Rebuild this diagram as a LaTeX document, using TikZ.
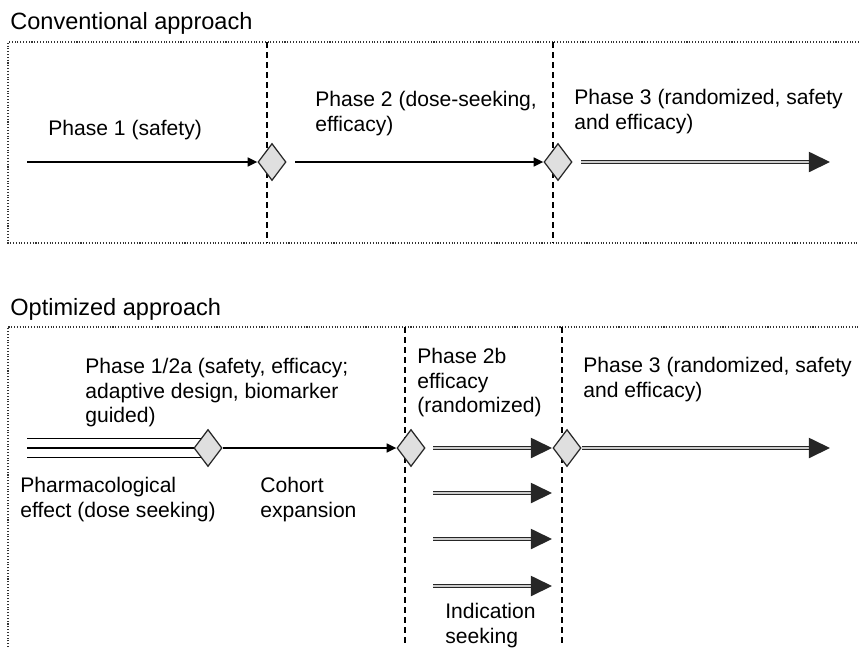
\documentclass[tikz,border=0pt]{standalone}
\usepackage{fontspec}
\setmainfont{Liberation Sans}
\usetikzlibrary{arrows.meta,shapes.geometric,backgrounds}

\tikzset{
  gate/.style={diamond, draw=black!85, fill=gray!25, line width=0.7pt, inner sep=0pt,
    minimum width=0.56cm, minimum height=0.74cm},
  phaseline/.style={dash pattern=on 3.4pt off 2.3pt, line width=0.8pt},
  frame/.style={densely dotted, line width=0.6pt, black!80},
  thinarrow/.style={line width=1.1pt, -{Triangle[length=5.5pt,width=5pt]}},
  bigarrow/.style={double=gray!40, draw=black!85, double distance=1.1pt, line width=0.75pt,
    -{Triangle[length=12pt,width=11.5pt]}},
  label/.style={anchor=north west, inner sep=0pt, align=left,
    font=\fontsize{12}{14}\selectfont},
  heading/.style={anchor=north west, inner sep=0pt, font=\fontsize{13.4}{16}\selectfont}
}

\begin{document}
\begin{tikzpicture}[x=0.02cm, y=-0.02cm]
        \useasboundingbox (0,0) rectangle (859,647);
        % \draw[help lines, gray!50, very thin] (0,0) grid[step=50] (859,647);

        % conventional approach
        \node[heading] (convtitle) at (10,12) {Conventional approach};
        \draw[frame] (859,42) -- (8,42) -- (8,243) -- (859,243);
        \draw[phaseline] (267,42) -- (267,243);
        \draw[phaseline] (553,42) -- (553,243);

        \node[gate] (c1) at (272,162) {};
        \node[gate] (c2) at (558,162) {};

        \coordinate (c0) at (27,162);
        \coordinate (c3) at (830,162);
        \draw[thinarrow] (c0) -- (c1.west);
        \draw[thinarrow] ([xshift=5pt]c1.east) -- (c2.west);
        \draw[bigarrow] ([xshift=5pt]c2.east) -- (c3);

        \node[label] (cphase1) at (48,120) {Phase 1 (safety)};
        \node[label] (cphase2) at (315,91) {Phase 2 (dose-seeking,\\efficacy)};
        \node[label] (cphase3) at (574,89) {Phase 3 (randomized, safety\\and efficacy)};

        % optimized approach
        \node[heading] (opttitle) at (10,298) {Optimized approach};
        \draw[frame] (8,647) -- (8,327) -- (859,327);
        \draw[phaseline] (405,327) -- (405,647);
        \draw[phaseline] (562,327) -- (562,647);

        \node[gate] (oA) at (208,448) {};
        \node[gate] (oB) at (411,448) {};
        \node[gate] (oC) at (567,448) {};

        \coordinate (o0) at (27,448);
        \begin{scope}[on background layer]
          \foreach \dy in {-9.5,0,9.5}
            \draw[line width=1.1pt] ([shift={(0,\dy)}]o0) -- ([shift={(0,\dy)}]oA.center);
        \end{scope}
        \draw[thinarrow] (oA.east) -- (oB.west);

        % indication seeking arms
        \foreach \y [count=\i] in {448,493,539,586} {
          \coordinate (arm\i) at (433,\y);
          \coordinate (armend\i) at (552,\y);
          \draw[bigarrow] (arm\i) -- (armend\i);
        }
        \coordinate (o3) at (830,448);
        \draw[bigarrow] (oC.east) -- (o3);

        \node[label] (ophase1) at (85,358) {Phase 1/2a (safety, efficacy;\\adaptive design, biomarker\\guided)};
        \node[label] (opharm) at (20,477) {Pharmacological\\effect (dose seeking)};
        \node[label] (ocohort) at (260,477) {Cohort\\expansion};
        \node[label] (ophase2b) at (417,348) {Phase 2b\\efficacy\\(randomized)};
        \node[label] (ophase3) at (583,357) {Phase 3 (randomized, safety\\and efficacy)};
        \node[label] (oindic) at (445,603) {Indication\\seeking};
      \end{tikzpicture}
\end{document}
